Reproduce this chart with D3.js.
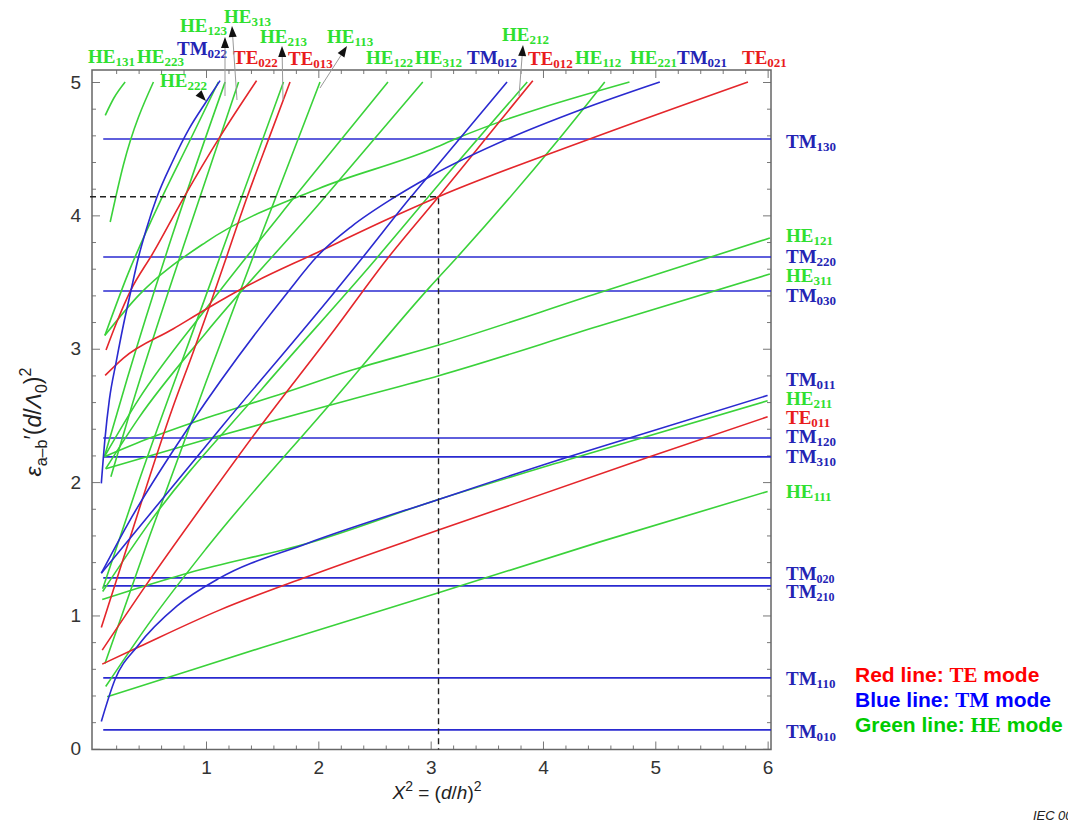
<!DOCTYPE html>
<html>
<head>
<meta charset="utf-8">
<script src="https://cdn.jsdelivr.net/npm/d3@7"></script>
<style>
  body { margin: 0; background: #fff; }
  .tick text { font-family: "Liberation Sans", Arial, sans-serif; font-size: 19px; fill: #333; }
  .tick line { stroke: #777; }
  .mode { font-family: "Liberation Serif", "Times New Roman", serif; font-weight: bold; font-size: 19px; }
</style>
</head>
<body>
<svg id="chart" width="1068" height="829"></svg>
<script>
// ---- data: x = (d/h)^2, y = eps(d/lambda0)^2 ----

// TM modes with no x dependence (horizontal lines)
const tmFlatModes  = ["TM010", "TM110", "TM210", "TM020", "TM310", "TM120", "TM030", "TM220", "TM130"];
const tmFlatLevels = [0.142, 0.532, 1.222, 1.282, 2.189, 2.331, 3.433, 3.688, 4.573];
const tmFlatStart = 0.085;

// TE modes (red)
const teModes = ["TE011", "TE012", "TE013", "TE021", "TE022"];
const teCurves = [
  [[0.076, 0.635], [0.41, 0.767], [1.12, 1.04], [1.9, 1.29], [3.07, 1.64], [4.95, 2.19], [6.0, 2.49]],
  [[0.076, 0.74], [0.46, 1.22], [1.0, 1.86], [1.45, 2.38], [2.15, 3.15], [2.6, 3.66], [3.07, 4.14], [3.59, 4.68], [3.91, 5.01]],
  [[0.068, 0.91], [0.3, 1.52], [0.7, 2.55], [0.888, 2.98], [1.036, 3.33], [1.155, 3.62], [1.363, 4.13], [1.57, 4.6], [1.748, 5.0]],
  [[0.102, 2.8], [0.265, 2.93], [0.71, 3.15], [1.007, 3.3], [1.363, 3.47], [1.986, 3.72], [2.64, 3.98], [3.07, 4.14], [4.44, 4.58], [5.825, 5.0]],
  [[0.11, 2.99], [0.206, 3.2], [0.325, 3.43], [0.53, 3.72], [0.8, 4.13], [1.125, 4.59], [1.45, 5.01]]
];

// TM modes depending on x (blue)
const tmModes = ["TM011", "TM012", "TM021", "TM022"];
const tmCurves = [
  [[0.068, 0.205], [0.19, 0.52], [0.39, 0.77], [0.74, 1.07], [1.12, 1.28], [1.9, 1.54], [3.07, 1.87], [4.23, 2.19], [4.77, 2.33], [6.0, 2.65]],
  [[0.068, 1.317], [1.155, 2.43], [2.149, 3.43], [2.4, 3.69], [2.816, 4.13], [2.99, 4.305], [3.68, 5.0]],
  [[0.068, 1.317], [0.3, 1.68], [0.86, 2.43], [1.733, 3.43], [1.986, 3.69], [2.3, 3.92], [2.667, 4.13], [2.99, 4.29], [3.705, 4.58], [4.33, 4.79], [5.04, 5.0]],
  [[0.068, 1.99], [0.1, 2.32], [0.14, 2.62], [0.2, 2.9], [0.265, 3.18], [0.325, 3.41], [0.4, 3.69], [0.47, 3.9], [0.56, 4.13], [0.7, 4.4], [0.85, 4.65], [1.0, 4.85], [1.125, 5.01]]
];

// HE modes (green)
const heModes = ["HE111", "HE112", "HE113", "HE211", "HE212", "HE213", "HE121", "HE122", "HE123",
                 "HE311", "HE312", "HE313", "HE221", "HE222", "HE223", "HE131"];
const heCurves = [
  [[0.12, 0.39], [0.66, 0.535], [1.5, 0.76], [3.07, 1.17], [4.5, 1.55], [6.0, 1.93]],
  [[0.107, 0.467], [0.5, 0.95], [1.0, 1.5], [2.14, 2.62], [2.99, 3.46], [3.24, 3.69], [4.15, 4.58], [4.55, 5.0]],
  [[0.1, 0.64], [0.5, 1.6], [1.0, 2.75], [1.5, 3.87], [2.015, 5.0]],
  [[0.076, 1.12], [0.3, 1.18], [0.85, 1.32], [1.9, 1.54], [3.07, 1.87], [4.23, 2.17], [6.0, 2.61]],
  [[0.08, 1.18], [0.5, 1.7], [1.5, 2.7], [2.5, 3.66], [3.07, 4.23], [3.86, 5.0]],
  [[0.08, 1.2], [0.4, 2.0], [1.0, 3.4], [1.69, 5.0]],
  [[0.095, 2.19], [0.5, 2.33], [1.0, 2.48], [1.7, 2.67], [2.3, 2.84], [3.08, 3.03], [4.5, 3.42], [6.02, 3.83]],
  [[0.095, 2.19], [0.4, 2.62], [1.0, 3.3], [1.8, 4.15], [2.62, 5.0]],
  [[0.095, 2.19], [0.3, 2.78], [0.7, 3.85], [1.17, 5.0]],
  [[0.107, 2.1], [1.0, 2.32], [2.29, 2.62], [3.08, 2.8], [4.5, 3.17], [6.02, 3.56]],
  [[0.107, 2.1], [0.4, 2.48], [1.0, 3.12], [2.0, 4.08], [2.93, 5.0]],
  [[0.153, 2.04], [0.35, 2.6], [0.8, 3.77], [1.29, 5.0]],
  [[0.1, 3.1], [0.4, 3.4], [1.0, 3.8], [2.0, 4.2], [2.99, 4.49], [3.24, 4.58], [4.77, 5.0]],
  [[0.1, 3.1], [0.3, 3.55], [0.6, 4.12], [0.85, 4.55], [1.11, 5.0]],
  [[0.147, 3.95], [0.265, 4.38], [0.532, 5.0]],
  [[0.103, 4.75], [0.18, 4.88], [0.28, 5.0]]
];

// marked operating point (dashed guide lines)
const markX = 3.07;
const markY = 4.14;

const xMajor = [1, 2, 3, 4, 5, 6];
const yMajor = [0, 1, 2, 3, 4, 5];

// ---- drawing ----
const svg = d3.select("#chart");
const mL = 92, mR = 771, mT = 70, mB = 749.5;

const x = d3.scaleLinear().domain([-0.015, 6.03]).range([mL, mR]);
const y = d3.scaleLinear().domain([-0.005, 5.09]).range([mB, mT]);

const RED = "#e4262b", BLUE = "#2a2ad0", GREEN = "#3ad23a";
const labelColor = { TE: "#e81c1c", TM: "#2424b4", HE: "#2fe02f" };

const minorX = d3.range(1, 31).map(i => i * 0.2).filter(v => Math.abs(v - Math.round(v)) > 1e-6);
const minorY = d3.range(1, 26).map(i => i * 0.2).filter(v => Math.abs(v - Math.round(v)) > 1e-6);

function drawAxis(axisFn, scale, pos, values, size, labels) {
  const g = svg.append("g")
    .attr("transform", pos)
    .call(axisFn(scale).tickValues(values).tickSize(-size).tickPadding(11)
      .tickFormat(labels ? d3.format("d") : ""));
  g.select(".domain").remove();
  return g;
}

drawAxis(d3.axisBottom, x, `translate(0,${mB})`, xMajor, 8, true);
drawAxis(d3.axisBottom, x, `translate(0,${mB})`, minorX, 4, false);
drawAxis(d3.axisTop, x, `translate(0,${mT})`, xMajor, 8, false);
drawAxis(d3.axisTop, x, `translate(0,${mT})`, minorX, 4, false);
drawAxis(d3.axisLeft, y, `translate(${mL},0)`, yMajor, 8, true);
drawAxis(d3.axisLeft, y, `translate(${mL},0)`, minorY, 4, false);
drawAxis(d3.axisRight, y, `translate(${mR},0)`, yMajor, 8, false);
drawAxis(d3.axisRight, y, `translate(${mR},0)`, minorY, 4, false);

svg.append("rect")
  .attr("x", mL).attr("y", mT)
  .attr("width", mR - mL).attr("height", mB - mT)
  .attr("fill", "none").attr("stroke", "#666").attr("stroke-width", 1.5);

const line = d3.line().x(d => x(d[0])).y(d => y(d[1])).curve(d3.curveMonotoneX);
const plot = svg.append("g").attr("fill", "none").attr("stroke-width", 1.6);

plot.selectAll(".flat").data(tmFlatLevels).join("line")
  .attr("x1", x(tmFlatStart)).attr("x2", mR)
  .attr("y1", d => y(d)).attr("y2", d => y(d))
  .attr("stroke", BLUE);

plot.selectAll(".he").data(heCurves).join("path").attr("d", line).attr("stroke", GREEN);
plot.selectAll(".te").data(teCurves).join("path").attr("d", line).attr("stroke", RED);
plot.selectAll(".tm").data(tmCurves).join("path").attr("d", line).attr("stroke", BLUE);

// dashed guides
svg.append("path")
  .attr("d", `M${mL - 2},${y(markY)}H${x(markX)}V${mB}`)
  .attr("fill", "none").attr("stroke", "#222").attr("stroke-width", 1.4)
  .attr("stroke-dasharray", "6,4");

// ---- mode labels ----
function modeText(name, px, py, size) {
  const s = size || 19;
  const t = svg.append("text").attr("class", "mode")
    .attr("x", px).attr("y", py).attr("font-size", s)
    .attr("fill", labelColor[name.slice(0, 2)]);
  t.append("tspan").text(name.slice(0, 2));
  t.append("tspan").attr("dy", 3).attr("font-size", Math.round(s * 0.68)).text(name.slice(2));
}

const topLabels = [
  ["HE131", 88, 63], ["HE223", 137, 63], ["TM022", 177, 55], ["HE222", 160, 87],
  ["HE123", 180, 32], ["HE313", 224, 23], ["TE022", 233, 64], ["HE213", 260, 43],
  ["TE013", 288, 65], ["HE113", 327, 43], ["HE122", 366, 64], ["HE312", 415, 64],
  ["TM012", 467, 64], ["HE212", 502, 41], ["TE012", 528, 65], ["HE112", 575, 64],
  ["HE221", 630, 64], ["TM021", 677, 64], ["TE021", 742, 64]
];
const rightLabels = [
  ["TM130", 148], ["HE121", 242], ["TM220", 263], ["HE311", 282], ["TM030", 302],
  ["TM011", 386], ["HE211", 405], ["TE011", 424], ["TM120", 443], ["TM310", 463],
  ["HE111", 498], ["TM020", 580], ["TM210", 598], ["TM110", 685], ["TM010", 738]
];
topLabels.forEach(d => modeText(d[0], d[1], d[2]));
rightLabels.forEach(d => modeText(d[0], 786, d[1], d[0] === "TM020" || d[0] === "TM210" ? 17 : 19));

// pointer arrows from labels to curve ends
const pointers = [
  { from: [225, 96], tip: [225, 37] },
  { from: [237, 100], tip: [232, 26] },
  { from: [283, 100], tip: [282, 46] },
  { from: [320, 88], tip: [347, 46] },
  { from: [519, 96], tip: [523, 45] },
  { from: [194, 88], tip: [206, 101], noLine: true }
];
pointers.forEach(p => {
  const dx = p.tip[0] - p.from[0], dy = p.tip[1] - p.from[1];
  const len = Math.hypot(dx, dy), ux = dx / len, uy = dy / len;
  const bx = p.tip[0] - ux * 11, by = p.tip[1] - uy * 11;
  if (!p.noLine) {
    svg.append("line").attr("x1", p.from[0]).attr("y1", p.from[1])
      .attr("x2", bx).attr("y2", by).attr("stroke", "#999").attr("stroke-width", 1);
  }
  svg.append("path")
    .attr("d", `M${p.tip[0]},${p.tip[1]}L${bx - uy * 4},${by + ux * 4}L${bx + uy * 4},${by - ux * 4}Z`)
    .attr("fill", "#111");
});

// ---- legend ----
const legend = [["Red line: ", "TE", "#ff0000"], ["Blue line: ", "TM", "#0000ff"], ["Green line: ", "HE", "#00cc00"]];
legend.forEach((d, i) => {
  const t = svg.append("text").attr("x", 855).attr("y", 682 + i * 25)
    .attr("fill", d[2]).style("font-weight", "bold").style("font-size", "21px")
    .style("font-family", "'Liberation Sans', Arial, sans-serif");
  t.append("tspan").text(d[0]);
  t.append("tspan").style("font-family", "'Liberation Serif', 'Times New Roman', serif").text(d[1]);
  t.append("tspan").text(" mode");
});

// ---- axis titles ----
const sans = "'Liberation Sans', Arial, sans-serif";
const xt = svg.append("text").attr("x", 437).attr("y", 799).attr("text-anchor", "middle")
  .style("font-family", sans).style("font-size", "19px").attr("fill", "#222");
xt.append("tspan").style("font-style", "italic").text("X");
xt.append("tspan").attr("dy", -8).attr("font-size", 14).text("2");
xt.append("tspan").attr("dy", 8).text(" = (");
xt.append("tspan").style("font-style", "italic").text("d");
xt.append("tspan").text("/");
xt.append("tspan").style("font-style", "italic").text("h");
xt.append("tspan").text(")");
xt.append("tspan").attr("dy", -8).attr("font-size", 14).text("2");

const yt = svg.append("text").attr("transform", "translate(41,422) rotate(-90)")
  .attr("text-anchor", "middle").style("font-family", sans).style("font-size", "23px").attr("fill", "#222");
yt.append("tspan").style("font-style", "italic").text("ε");
yt.append("tspan").attr("dy", 6).attr("font-size", 16).text("a–b");
yt.append("tspan").attr("dy", -6).text("′(");
yt.append("tspan").style("font-style", "italic").text("d");
yt.append("tspan").text("/");
yt.append("tspan").style("font-style", "italic").text("Λ");
yt.append("tspan").attr("dy", 6).attr("font-size", 16).text("0");
yt.append("tspan").attr("dy", -6).text(")");
yt.append("tspan").attr("dy", -10).attr("font-size", 16).text("2");

const iec = svg.append("text").attr("y", 820)
  .style("font-family", sans).style("font-style", "italic").style("font-size", "13px")
  .attr("fill", "#222");
iec.append("tspan").attr("x", 1033).text("IEC");
iec.append("tspan").attr("x", 1058).text("009");
</script>
</body>
</html>
